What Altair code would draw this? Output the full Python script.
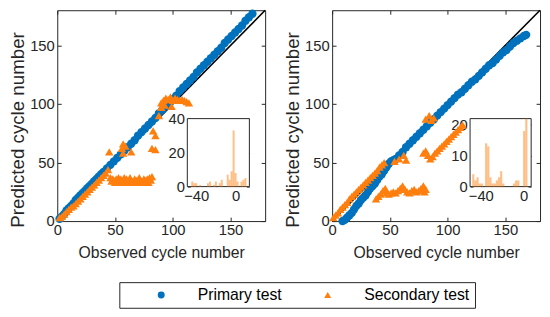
import altair as alt
import pandas as pd

FONT = "Liberation Sans"
SERIES = ["Primary test", "Secondary test"]
COLORS = ["#0072BD", "#FF7F0E"]
HIST_COLOR = "#FF7F0E"
MAIN_TICKS = [0, 50, 100, 150]

# ---------------- left panel ----------------
left_primary_obs = [2, 4, 6, 8, 10, 12, 14, 16, 18, 20, 22, 24, 26, 28, 30, 32, 34, 36, 38, 40,
                    43, 46, 49, 52, 55, 58, 61, 64, 67, 70, 73, 76, 79, 82, 85, 88, 91, 94, 97, 100,
                    103, 106, 109, 112, 115, 118, 121, 124, 127, 130, 133, 136, 139, 142, 145, 148,
                    151, 154, 157, 160, 163, 166, 169]
left_primary_pred = [2, 4, 6, 9, 11, 13, 15, 18, 20, 22, 24, 26, 28, 30, 32, 34, 36, 38, 40, 42,
                     45, 48, 51, 54, 57, 60, 63, 66, 69, 73, 76, 79, 82, 85, 88, 92, 95, 98, 101, 104,
                     107, 111, 114, 117, 120, 123, 127, 130, 133, 136, 139, 142, 145, 148, 152, 155,
                     158, 161, 164, 167, 171, 174, 177]
left_secondary_obs = [2, 4, 6, 8, 10, 12, 14, 16, 18, 20, 22, 24, 26, 28, 30, 32, 34, 36, 38, 40, 42, 44,
                      46, 47, 48, 49, 50, 51, 52, 53, 54, 55, 56, 57, 58, 59, 60, 61, 62, 63, 64, 65,
                      66, 67, 68, 69, 70, 71, 72, 73, 74, 75, 76, 77, 78, 79, 80, 81, 82,
                      45, 56, 57, 59, 57, 64, 83, 85, 82, 85, 88,
                      90, 90, 92, 93, 94, 96, 98, 99, 100, 102, 104, 106, 108, 110, 112, 114]
left_secondary_pred = [3, 4, 6, 8, 10, 12, 13, 15, 17, 19, 21, 23, 25, 27, 29, 31, 33, 35, 37, 39, 41, 44,
                       37, 34, 36, 35, 33, 36, 34, 37, 33, 36, 34, 35, 37, 33, 36, 34, 33, 37, 35, 34,
                       33, 36, 34, 35, 33, 37, 35, 34, 33, 36, 35, 34, 36, 33, 37, 35, 38,
                       59, 62, 66, 64, 58, 59, 77, 73, 62, 61, 90,
                       97, 101, 103, 99, 105, 104, 106, 98, 103, 105, 104, 103, 104, 103, 102, 101]
left_hist_start = [-45, -43, -41, -37, -29, -27, -23, -21, -17, -15, -9, -7, -5, -3, -1, 1, 5, 7, 9]
left_hist_count = [3, 2, 2, 1, 2, 3, 1, 3, 2, 4, 7, 4, 9, 33, 8, 3, 3, 4, 5]
left_hist_width = 2
left_inset_xdomain = [-49, 14]
left_inset_ydomain = [0, 40]
left_inset_xticks = [-40, -20, 0]
left_inset_yticks = [0, 20, 40]

# ---------------- right panel ----------------
right_primary_obs = [9, 11, 13, 15, 17, 19, 21, 23, 25, 27, 29, 31, 33, 35, 37, 39, 41, 43, 45, 47, 49,
                     51, 53, 55, 58, 61, 64, 67, 70, 73, 76, 79, 82, 85, 88, 91, 94, 97, 100, 103,
                     106, 109, 112, 115, 118, 121, 124, 127, 130, 133, 136, 139, 142, 145, 148, 151,
                     154, 157, 160, 163, 166, 168]
right_primary_pred = [0, 1, 3, 5, 7, 10, 13, 15, 18, 20, 22, 25, 28, 30, 32, 35, 38, 40, 43, 46, 49,
                      51, 52, 53, 56, 59, 63, 66, 69, 72, 75, 78, 81, 84, 87, 90, 93, 96, 99, 102,
                      105, 108, 110, 113, 116, 119, 121, 124, 127, 130, 133, 135, 138, 141, 144, 146,
                      149, 152, 154, 156, 158, 159]
right_secondary_obs = [1, 3, 5, 7, 9, 11, 13, 15, 17, 19, 21, 23, 25, 27, 29, 31, 33, 35, 37, 39, 41, 43, 45,
                       54, 58, 62, 64,
                       38, 40, 42, 44, 46, 47, 49, 51, 53, 55, 57, 59, 61, 63, 65, 67, 69, 71, 73, 75,
                       77, 79, 80, 81,
                       79, 81, 83, 85, 87, 89, 91, 93, 95, 97, 99, 101, 103, 105, 107, 109, 111, 113,
                       81, 84, 86, 88]
right_secondary_pred = [3, 5, 7, 10, 12, 14, 16, 19, 21, 23, 25, 27, 29, 31, 33, 35, 37, 39, 41, 43, 46, 48, 50,
                        51, 53, 56, 52,
                        19, 21, 23, 26, 28, 24, 23, 24, 25, 24, 26, 28, 30, 27, 25, 24, 26, 27, 25, 26,
                        28, 30, 25, 27,
                        58, 60, 56, 53, 55, 58, 60, 62, 64, 66, 68, 70, 72, 74, 76, 78, 80, 82,
                        87, 90, 86, 88]
right_hist_start = [-48, -46, -44, -42, -40, -36, -34, -32, -30, -28, -26, -24, -22, -20, -10, -8, -6, -0.5, 1.5]
right_hist_count = [4, 2, 3, 1, 1, 14, 13, 3, 1, 1, 2, 3, 5, 1, 1, 2, 2, 18, 22]
right_hist_width = 2
right_inset_xdomain = [-50, 7]
right_inset_ydomain = [0, 22]
right_inset_xticks = [-40, -20, 0]
right_inset_yticks = [0, 10, 20]

# ---------------- layout (pixels) ----------------
W, H = 211, 214
TICK = 4
ITICK = 3
LEFT_INSET_XRANGE = [132, 195]
RIGHT_INSET_XRANGE = [140, 202]
INSET_YRANGE = [179, 110]

LEGEND = alt.Legend(title=None, orient="none", legendX=63, legendY=276, direction="horizontal",
                    strokeColor="#262626", fillColor="white", padding=5, symbolSize=50,
                    symbolOffset=29.5, labelOffset=29, columnPadding=9, gridAlign="none",
                    labelFont=FONT, labelFontSize=16, labelColor="#000000")


def axis(orient, values, offset, tick, labels=True, title=None, label_pad=3, title_pad=4,
         label_expr=None, title_y=None):
    kw = dict(orient=orient, values=values, labels=labels, domain=False, ticks=True, tickSize=tick,
              offset=offset, grid=False, title=title, labelPadding=label_pad, labelFlush=False,
              titlePadding=title_pad, minExtent=0, maxExtent=300)
    if label_expr is not None:
        kw["labelExpr"] = label_expr
    if title_y is not None:
        kw["titleY"] = title_y
    return alt.Axis(**kw)


def panel(p_obs, p_pred, s_obs, s_pred, h_start, h_count, h_width,
          ixdom, iydom, ixticks, iyticks, ixrange):
    main_scale = alt.Scale(domain=[0, 180], nice=False, zero=False)
    pts = pd.DataFrame({
        "obs": p_obs + s_obs,
        "pred": p_pred + s_pred,
        "series": [SERIES[0]] * len(p_obs) + [SERIES[1]] * len(s_obs),
    })
    diag_df = pd.DataFrame({"x": [0], "y": [0], "x2": [180], "y2": [180]})
    diag = alt.Chart(diag_df).mark_rule(color="black", strokeWidth=1.6).encode(
        x=alt.X("x:Q", scale=main_scale, axis=axis("top", MAIN_TICKS, -TICK, TICK, labels=False)),
        y=alt.Y("y:Q", scale=main_scale, axis=axis("right", MAIN_TICKS, -TICK, TICK, labels=False)),
        x2="x2:Q", y2="y2:Q",
    )
    scatter = alt.Chart(pts).mark_point(filled=True, size=72, opacity=1).encode(
        x=alt.X("obs:Q", scale=main_scale,
                axis=axis("bottom", MAIN_TICKS, -TICK, TICK, title="Observed cycle number",
                          label_pad=2, title_pad=7)),
        y=alt.Y("pred:Q", scale=main_scale,
                axis=axis("left", MAIN_TICKS, -TICK, TICK, title="Predicted cycle number",
                          label_pad=3, title_pad=2, title_y=121)),
        color=alt.Color("series:N", scale=alt.Scale(domain=SERIES, range=COLORS), legend=LEGEND),
        shape=alt.Shape("series:N", scale=alt.Scale(domain=SERIES, range=["circle", "triangle-up"]),
                        legend=LEGEND),
    )
    ixscale = alt.Scale(domain=ixdom, range=ixrange, nice=False, zero=False)
    iyscale = alt.Scale(domain=iydom, range=INSET_YRANGE, nice=False, zero=False)
    box_df = pd.DataFrame({"x": [ixdom[0]], "x2": [ixdom[1]], "y": [iydom[0]], "y2": [iydom[1]]})
    hide20 = "datum.value == -20 ? '' : datum.label"
    box = alt.Chart(box_df).mark_rect(fill="white", stroke="#262626", strokeWidth=1).encode(
        x=alt.X("x:Q", scale=ixscale,
                axis=axis("top", ixticks, -(INSET_YRANGE[1] + ITICK), ITICK, labels=False)),
        x2="x2:Q",
        y=alt.Y("y:Q", scale=iyscale,
                axis=axis("right", iyticks, (ixrange[1] - ITICK) - W, ITICK, labels=False)),
        y2="y2:Q",
    )
    hist_df = pd.DataFrame({"start": h_start, "count": h_count})
    hist_df["end"] = hist_df["start"] + h_width
    bars = alt.Chart(hist_df).mark_rect(fill=HIST_COLOR, opacity=0.5).encode(
        x=alt.X("start:Q", scale=ixscale,
                axis=axis("bottom", ixticks, (INSET_YRANGE[0] - ITICK) - H, ITICK, label_pad=2,
                          label_expr=hide20)),
        x2="end:Q",
        y=alt.Y("count:Q", scale=iyscale,
                axis=axis("left", iyticks, -(ixrange[0] + ITICK), ITICK, label_pad=3)),
        y2=alt.datum(0),
    )
    return alt.layer(diag, scatter, box, bars).resolve_scale(x="independent", y="independent").properties(
        width=W, height=H)


left = panel(left_primary_obs, left_primary_pred, left_secondary_obs, left_secondary_pred,
             left_hist_start, left_hist_count, left_hist_width,
             left_inset_xdomain, left_inset_ydomain, left_inset_xticks, left_inset_yticks,
             LEFT_INSET_XRANGE)
right = panel(right_primary_obs, right_primary_pred, right_secondary_obs, right_secondary_pred,
              right_hist_start, right_hist_count, right_hist_width,
              right_inset_xdomain, right_inset_ydomain, right_inset_xticks, right_inset_yticks,
              RIGHT_INSET_XRANGE)

chart = alt.hconcat(left, right, spacing=16).properties(
    padding={"left": 0, "top": -2, "right": 0, "bottom": 0},
    background="white",
).configure_axis(
    labelFont=FONT, titleFont=FONT, labelFontSize=15, titleFontSize=16, titleFontWeight="normal",
    labelColor="#262626", titleColor="#262626", tickColor="#262626", tickWidth=1,
).configure_axisY(
    titleFontSize=19,
).configure_view(
    stroke="#262626", strokeWidth=1,
)

chart.save("out.html", embed_options={"renderer": "svg", "actions": False})
